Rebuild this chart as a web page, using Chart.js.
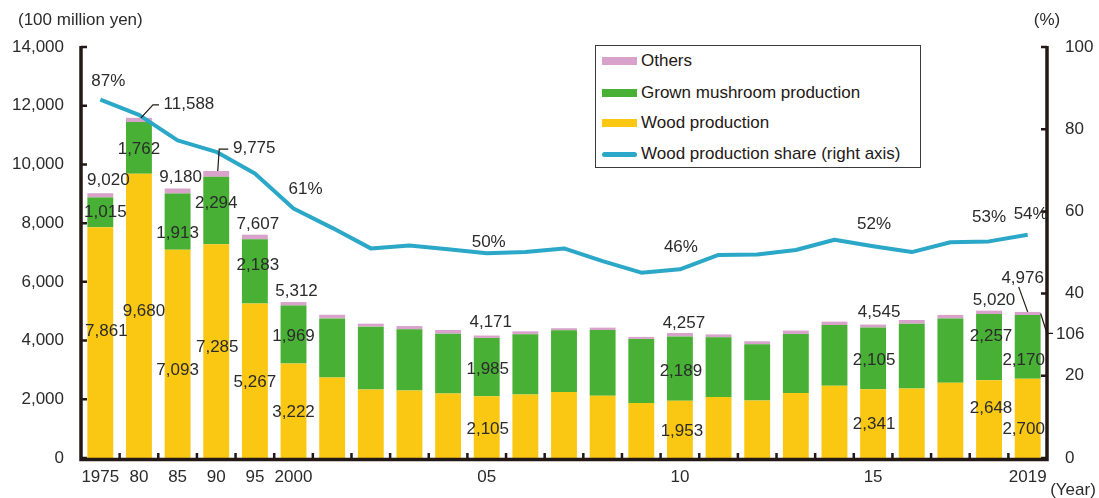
<!DOCTYPE html>
<html>
<head>
<meta charset="utf-8">
<script src="https://cdn.jsdelivr.net/npm/chart.js@4.4.1/dist/chart.umd.min.js"></script>
<style>
  html, body { margin: 0; padding: 0; background: #fff; }
  #wrap { position: relative; width: 1099px; height: 498px; }
  canvas { display: block; }
  .legend { position: absolute; left: 595px; top: 45px; width: 326px; height: 123px;
            border: 1.5px solid #3a3a3a; box-sizing: border-box; background: #fff;
            font: 17px "Liberation Sans", Arial, sans-serif; color: #231815; }
  .row { position: absolute; left: 0; height: 20px; line-height: 20px; }
  .sw { position: absolute; left: 6px; top: 6px; width: 35px; height: 8px; }
  .sw.line { top: 7.5px; height: 5px; border-radius: 3px; }
  .txt { position: absolute; left: 45px; top: 0; white-space: nowrap; }
</style>
</head>
<body>
<div id="wrap">
  <canvas id="chart" width="1099" height="498"></canvas>
  <div class="legend" id="legend"></div>
</div>
<script>
// categories and tick labels
const years = [1975, 1980, 1985, 1990, 1995, 2000, 2001, 2002, 2003, 2004, 2005, 2006, 2007,
               2008, 2009, 2010, 2011, 2012, 2013, 2014, 2015, 2016, 2017, 2018, 2019];
const yearTicks = ['1975', '80', '85', '90', '95', '2000', '', '', '', '', '05', '', '', '', '',
                   '10', '', '', '', '', '15', '', '', '', '2019'];

// series (100 million yen)
const wood = [7861, 9680, 7093, 7285, 5267, 3222, 2740, 2335, 2300, 2200, 2105, 2165, 2245,
              2120, 1870, 1953, 2075, 1960, 2210, 2460, 2341, 2370, 2560, 2648, 2700];
const mushroom = [1015, 1762, 1913, 2294, 2183, 1969, 2015, 2140, 2085, 2035, 1985, 2050, 2105,
                  2240, 2185, 2189, 2035, 1915, 2015, 2070, 2105, 2205, 2190, 2257, 2170];
const others = [144, 146, 174, 196, 157, 121, 125, 100, 110, 125, 81, 100, 70,
                80, 70, 115, 100, 100, 115, 115, 99, 125, 125, 115, 106];
// wood production share (%), right axis
const woodShare = [87.2, 83.5, 77.3, 74.5, 69.2, 60.7, 56.0, 51.0, 51.7, 50.8, 49.8, 50.1, 51.0,
                   47.9, 45.1, 45.9, 49.4, 49.5, 50.6, 53.1, 51.5, 50.1, 52.5, 52.7, 54.3];

const leftTicks = { min: 0, max: 14000, step: 2000 };
const rightTicks = { min: 0, max: 100, step: 20 };

const colors = {
  wood: '#FAC812',
  mushroom: '#47B035',
  others: '#D9A2CB',
  share: '#2BA8C8',
  axis: '#231815',
  text: '#2b2b2b'
};
const FONT = '"Liberation Sans", Arial, sans-serif';

// where the value labels sit: [index, dx, dy]
const totalSpots = [[0, 8, -13], [1, 50, -13], [2, 3, -11], [3, 38, -23], [4, 3, -10], [5, 3, -11],
                    [10, 4, -13], [15, 4, -10], [20, 6, -12], [23, 5, -10], [24, -5, -34]];
const mushSpots = [[0, 5, 0], [1, 0, 1], [2, 0, 12], [3, 0, -7], [4, 3, -6], [5, 0, 2],
                   [10, 1, 2], [15, 1, 3], [20, 1, 2], [23, 2, -11], [24, -4, 13]];
const woodSpots = [[0, 6, -11], [1, 5, -5], [2, 0, 16], [3, 1, -4], [4, 0, 2], [5, 0, 2],
                   [10, 1, 2], [15, 2, 2], [20, 1, 1], [23, 2, -11], [24, -4, 11]];
const shareSpots = [[0, 8, -18], [5, 12, -19], [10, 2, -11], [15, 1, -22], [20, 1, -22],
                    [23, 0, -24], [24, 3, -21]];

const fmt = v => Math.round(v).toLocaleString('en-US');
const total = i => wood[i] + mushroom[i] + others[i];

// legend (html)
const legendItems = [
  { label: 'Others', color: colors.others, line: false },
  { label: 'Grown mushroom production', color: colors.mushroom, line: false },
  { label: 'Wood production', color: colors.wood, line: false },
  { label: 'Wood production share (right axis)', color: colors.share, line: true }
];
const rowTops = [5, 37, 67, 98];
const legendEl = document.getElementById('legend');
legendItems.forEach((it, k) => {
  const row = document.createElement('div');
  row.className = 'row';
  row.style.top = rowTops[k] + 'px';
  row.innerHTML = '<span class="sw' + (it.line ? ' line' : '') + '" style="background:' + it.color +
                  '"></span><span class="txt">' + it.label + '</span>';
  legendEl.appendChild(row);
});

const axesPlugin = {
  id: 'axesPlugin',
  afterDatasetsDraw(chart) {
    const { ctx, chartArea: a, scales } = chart;
    const x = scales.x, y = scales.y, y1 = scales.y1;
    ctx.save();
    ctx.strokeStyle = colors.axis;
    ctx.lineCap = 'butt';
    // axis lines
    ctx.lineWidth = 3.5;
    ctx.beginPath();
    ctx.moveTo(a.left, a.top - 1);
    ctx.lineTo(a.left, a.bottom + 1.5);
    ctx.lineTo(a.right, a.bottom + 1.5);
    ctx.lineTo(a.right, a.top - 1);
    ctx.stroke();
    // inward tick marks
    ctx.lineWidth = 2.5;
    ctx.beginPath();
    for (let v = leftTicks.min; v <= leftTicks.max; v += leftTicks.step) {
      const py = y.getPixelForValue(v);
      ctx.moveTo(a.left, py); ctx.lineTo(a.left + 6, py);
    }
    for (let v = rightTicks.min; v <= rightTicks.max; v += rightTicks.step) {
      const py = y1.getPixelForValue(v);
      ctx.moveTo(a.right, py); ctx.lineTo(a.right - 6, py);
    }
    const half = (x.getPixelForValue(1) - x.getPixelForValue(0)) / 2;
    for (let i = 1; i < years.length; i++) {
      const px = x.getPixelForValue(i) - half;
      ctx.moveTo(px, a.bottom + 1); ctx.lineTo(px, a.bottom - 5);
    }
    ctx.stroke();

    // unit captions
    ctx.fillStyle = colors.text;
    ctx.font = '17px ' + FONT;
    ctx.textBaseline = 'middle';
    ctx.textAlign = 'left';
    ctx.fillText('(100 million yen)', 18, 20);
    ctx.textAlign = 'center';
    ctx.fillText('(%)', 1047, 20);
    ctx.fillText('(Year)', 1073, 490);
    ctx.restore();
  }
};

const labelPlugin = {
  id: 'labelPlugin',
  afterDraw(chart) {
    const { ctx, chartArea: a } = chart;
    const woodMeta = chart.getDatasetMeta(1);
    const mushMeta = chart.getDatasetMeta(2);
    const othMeta = chart.getDatasetMeta(3);
    const lineMeta = chart.getDatasetMeta(0);
    ctx.save();
    ctx.fillStyle = colors.text;
    ctx.font = '17px ' + FONT;
    ctx.textAlign = 'center';
    ctx.textBaseline = 'middle';

    woodSpots.forEach(([i, dx, dy]) => {
      const b = woodMeta.data[i];
      ctx.fillText(fmt(wood[i]), b.x + dx, (b.y + b.base) / 2 + dy);
    });
    mushSpots.forEach(([i, dx, dy]) => {
      const b = mushMeta.data[i];
      ctx.fillText(fmt(mushroom[i]), b.x + dx, (b.y + b.base) / 2 + dy);
    });
    totalSpots.forEach(([i, dx, dy]) => {
      const b = othMeta.data[i];
      ctx.fillText(fmt(total(i)), b.x + dx, b.y + dy);
    });
    shareSpots.forEach(([i, dx, dy]) => {
      const p = lineMeta.data[i];
      ctx.fillText(Math.round(woodShare[i]) + '%', p.x + dx, p.y + dy);
    });

    // leader lines
    ctx.strokeStyle = colors.axis;
    ctx.lineWidth = 1.2;
    const b80 = othMeta.data[1];
    ctx.beginPath();
    ctx.moveTo(b80.x + 2, b80.y);
    ctx.lineTo(b80.x + 14, b80.y - 13);
    ctx.lineTo(b80.x + 20, b80.y - 13);
    ctx.stroke();
    const b90 = othMeta.data[3];
    ctx.beginPath();
    ctx.moveTo(b90.x + 1.5, b90.y);
    ctx.lineTo(b90.x + 3, b90.y - 22);
    ctx.lineTo(b90.x + 12, b90.y - 22);
    ctx.stroke();
    const b19 = othMeta.data[24];
    ctx.beginPath();
    ctx.moveTo(b19.x - 9, b19.y - 25);
    ctx.lineTo(b19.x, b19.y);
    ctx.stroke();
    // others value of the last year, outside the right axis
    const mid = (b19.y + b19.base) / 2;
    ctx.beginPath();
    ctx.moveTo(b19.x + b19.width / 2, mid);
    ctx.lineTo(a.right, mid + 20);
    ctx.lineTo(a.right + 6, mid + 20);
    ctx.stroke();
    ctx.textAlign = 'left';
    ctx.fillText(fmt(others[24]), a.right + 9, mid + 21);
    ctx.restore();
  }
};

new Chart(document.getElementById('chart'), {
  data: {
    labels: years,
    datasets: [
      {
        type: 'line',
        label: 'Wood production share (right axis)',
        data: woodShare,
        yAxisID: 'y1',
        borderColor: colors.share,
        borderWidth: 4,
        pointRadius: 0,
        tension: 0,
        borderJoinStyle: 'round',
        order: 0
      },
      { type: 'bar', label: 'Wood production', data: wood, backgroundColor: colors.wood, yAxisID: 'y', stack: 's', order: 1 },
      { type: 'bar', label: 'Grown mushroom production', data: mushroom, backgroundColor: colors.mushroom, yAxisID: 'y', stack: 's', order: 1 },
      { type: 'bar', label: 'Others', data: others, backgroundColor: colors.others, yAxisID: 'y', stack: 's', order: 1 }
    ]
  },
  options: {
    responsive: false,
    animation: false,
    layout: { padding: { top: 47, left: 0, right: 0, bottom: 0 } },
    datasets: { bar: { barPercentage: 0.67, categoryPercentage: 1.0, borderWidth: 0 } },
    plugins: { legend: { display: false }, tooltip: { enabled: false } },
    scales: {
      x: {
        stacked: true,
        grid: { display: false, drawTicks: false },
        border: { display: false },
        ticks: {
          autoSkip: false, maxRotation: 0, padding: 9, color: colors.text,
          font: { family: FONT, size: 17 },
          callback: (v, i) => yearTicks[i]
        },
        afterFit: s => { s.height = 40; }
      },
      y: {
        stacked: true,
        position: 'left',
        min: leftTicks.min, max: leftTicks.max,
        grid: { display: false, drawTicks: false },
        border: { display: false },
        ticks: {
          stepSize: leftTicks.step, padding: 17, color: colors.text,
          font: { family: FONT, size: 17 },
          callback: v => fmt(v)
        },
        afterFit: s => { s.width = 81; }
      },
      y1: {
        position: 'right',
        min: rightTicks.min, max: rightTicks.max,
        grid: { display: false, drawTicks: false },
        border: { display: false },
        ticks: {
          stepSize: rightTicks.step, padding: 18, color: colors.text,
          font: { family: FONT, size: 17 }
        },
        afterFit: s => { s.width = 52; }
      }
    }
  },
  plugins: [axesPlugin, labelPlugin]
});
</script>
</body>
</html>
